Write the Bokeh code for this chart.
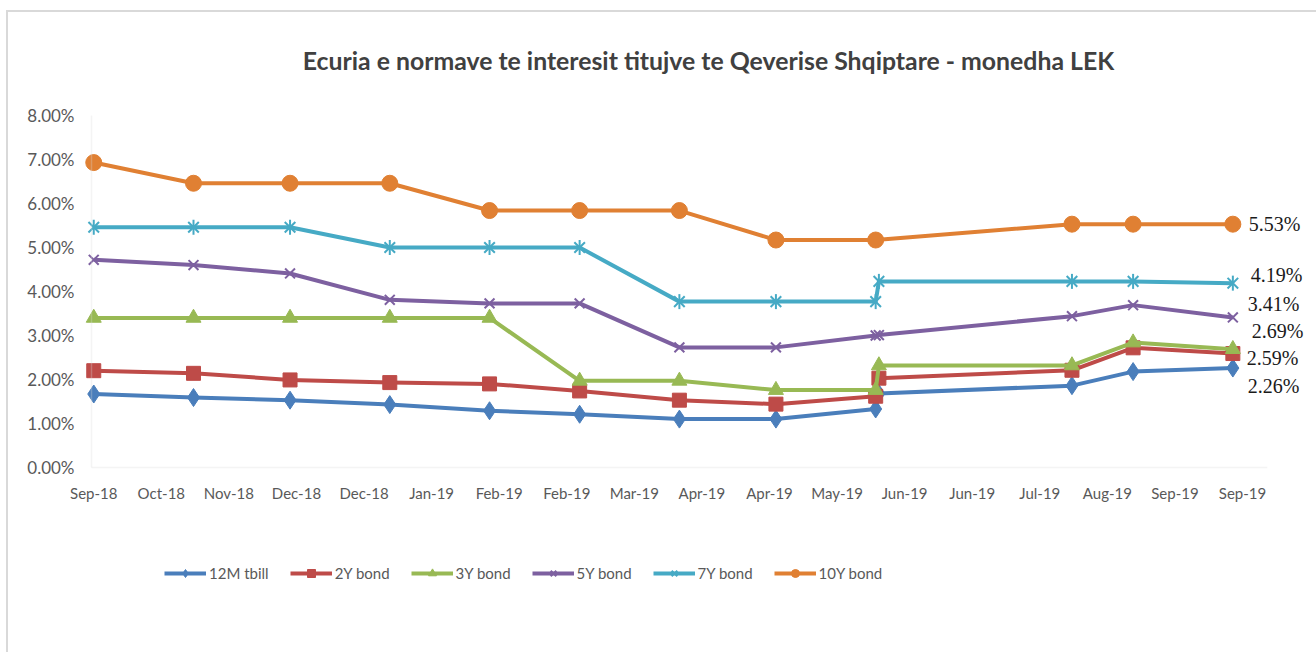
import pandas as pd
from bokeh.plotting import figure
from bokeh.models import (Range1d, Legend, LegendItem, ColumnDataSource, LabelSet, Label,
                          BoxAnnotation)
from bokeh.core.properties import value
from bokeh.embed import file_html
from bokeh.resources import INLINE

# ---------------- data ----------------
dates = ["2018-09-30", "2018-10-31", "2018-11-30", "2018-12-31", "2019-01-31",
         "2019-02-28", "2019-03-31", "2019-04-30", "2019-05-31", "2019-06-01",
         "2019-07-31", "2019-08-19", "2019-09-19"]
dates_10y = ["2018-09-30", "2018-10-31", "2018-11-30", "2018-12-31", "2019-01-31",
             "2019-02-28", "2019-03-31", "2019-04-30", "2019-05-31",
             "2019-07-31", "2019-08-19", "2019-09-19"]
tbill_12m = [1.67, 1.59, 1.53, 1.43, 1.29, 1.21, 1.10, 1.10, 1.33, 1.68, 1.86, 2.18, 2.26]
bond_2y   = [2.20, 2.14, 1.99, 1.93, 1.90, 1.74, 1.53, 1.44, 1.62, 2.03, 2.21, 2.72, 2.59]
bond_3y   = [3.40, 3.40, 3.40, 3.40, 3.40, 1.97, 1.97, 1.76, 1.76, 2.32, 2.32, 2.84, 2.69]
bond_5y   = [4.72, 4.60, 4.41, 3.81, 3.73, 3.73, 2.73, 2.73, 3.00, 3.01, 3.44, 3.69, 3.41]
bond_7y   = [5.46, 5.46, 5.46, 5.00, 5.00, 5.00, 3.77, 3.77, 3.77, 4.23, 4.23, 4.23, 4.19]
bond_10y  = [6.93, 6.46, 6.46, 6.46, 5.84, 5.84, 5.84, 5.17, 5.17, 5.53, 5.53, 5.53]

series_names = ["12M tbill", "2Y bond", "3Y bond", "5Y bond", "7Y bond", "10Y bond"]
series_values = [tbill_12m, bond_2y, bond_3y, bond_5y, bond_7y, bond_10y]
series_dates = [dates, dates, dates, dates, dates, dates_10y]

axis_start = "2018-09-30"
axis_end = "2019-09-30"
axis_step_days = 21
x_tick_labels = ["Sep-18", "Oct-18", "Nov-18", "Dec-18", "Dec-18", "Jan-19", "Feb-19",
                 "Feb-19", "Mar-19", "Apr-19", "Apr-19", "May-19", "Jun-19", "Jun-19",
                 "Jul-19", "Aug-19", "Sep-19", "Sep-19"]
y_ticks = [0, 1, 2, 3, 4, 5, 6, 7, 8]
y_tick_labels = ["0.00%", "1.00%", "2.00%", "3.00%", "4.00%", "5.00%", "6.00%", "7.00%", "8.00%"]
y_min, y_max = 0, 8

title_text = "Ecuria e normave te interesit titujve te Qeverise Shqiptare - monedha LEK"

# ---------------- styles ----------------
colors = ["#4A7EBB", "#BE4B48", "#98B954", "#7D60A0", "#46AAC5", "#E08033"]
markers = ["diamond", "square", "triangle", "x", "x", "circle"]
marker_sizes = [18, 14, 15, 14, 15, 16]
label_dx = [15, 14, 19, 15, 18, 16]
label_dy = [-18, -4, 18, 13, 8, 0]   # screen pixels, positive = up
FONT = "Lato"
GREY = "#595959"
AXIS_GREY = "#d9d9d9"

W, H = 1308, 640            # canvas (all of it is the plot frame)
PX_PER_DAY = 1179 / 366.4   # horizontal scale of the plot area
PX_PER_PCT = 44.0           # vertical scale of the plot area
PLOT_LEFT, PLOT_TOP = 83, 103   # plot-area corner inside the canvas

base = pd.Timestamp(axis_start)
def days(ds):
    return [(pd.Timestamp(d) - base).days for d in ds]

x_ticks = [i * axis_step_days for i in range(len(x_tick_labels))]
x_left = -0.7
x_axis_end = days([axis_end])[0] - 0.3

x0 = x_left - PLOT_LEFT / PX_PER_DAY
x1 = x0 + W / PX_PER_DAY
y1 = y_max + PLOT_TOP / PX_PER_PCT
y0 = y1 - H / PX_PER_PCT

p = figure(frame_width=W, frame_height=H, output_backend="svg", toolbar_location=None,
           x_range=Range1d(x0, x1), y_range=Range1d(y0, y1),
           min_border=0, min_border_left=0, min_border_right=0, min_border_top=0, min_border_bottom=0)
p.styles = {"margin-left": "6px", "margin-top": "10px",
            "border-left": "2px solid #d9d9d9", "border-top": "2px solid #d9d9d9"}
p.outline_line_color = None
p.grid.visible = False
p.xaxis.visible = False
p.yaxis.visible = False
p.background_fill_color = "white"
p.border_fill_color = "white"

# title
p.add_layout(Label(x=700, y=H - 48.3, x_units="screen", y_units="screen", text=title_text,
                   text_align="center", text_baseline="alphabetic", text_font=FONT,
                   text_font_size="24.8px", text_font_style="bold", text_color="#404040"))

# axis lines
p.add_layout(BoxAnnotation(left=x_left, right=x_left, bottom=y_min, top=y_max,
                           fill_alpha=0, line_color=AXIS_GREY, line_width=1.5))
p.add_layout(BoxAnnotation(left=x_left, right=x_axis_end, bottom=y_min, top=y_min,
                           fill_alpha=0, line_color=AXIS_GREY, line_width=1.5))

# y tick labels
ytick_src = ColumnDataSource(dict(x=[x_left] * len(y_ticks), y=y_ticks, text=y_tick_labels))
p.add_layout(LabelSet(x="x", y="y", text="text", source=ytick_src, x_offset=-17,
                      text_align="right", text_baseline="middle", text_font=value(FONT),
                      text_font_size="17px", text_color=GREY))

# x tick labels
xtick_src = ColumnDataSource(dict(x=x_ticks, y=[y_min] * len(x_ticks), text=x_tick_labels))
p.add_layout(LabelSet(x="x", y="y", text="text", source=xtick_src, y_offset=-25,
                      text_align="center", text_baseline="middle", text_font=value(FONT),
                      text_font_size="15px", text_color=GREY))

items = []
for name, ds, vals, c, m, s in zip(series_names, series_dates, series_values, colors, markers, marker_sizes):
    src = ColumnDataSource(dict(x=days(ds), y=vals))
    ln = p.line("x", "y", source=src, line_color=c, line_width=4, line_join="round")
    rs = [ln]
    if m == "x":
        rs.append(p.scatter("x", "y", source=src, marker="x", size=s, line_color=c, line_width=2))
        if name == "7Y bond":
            rs.append(p.scatter("x", "y", source=src, marker="dash", angle=1.5708, size=s,
                                line_color=c, line_width=2))
    else:
        rs.append(p.scatter("x", "y", source=src, marker=m, size=s, fill_color=c, line_color=c))
    items.append(LegendItem(label=name, renderers=rs))

legend = Legend(items=items, location=(156, 69), orientation="horizontal",
                glyph_width=42, glyph_height=20, label_height=20, label_standoff=3, spacing=21,
                padding=0, margin=0, border_line_color=None, background_fill_alpha=0,
                label_text_font=FONT, label_text_font_size="15px", label_text_color=GREY)
p.add_layout(legend, "center")

# end-of-series value labels
last_x = [days(ds)[-1] for ds in series_dates]
last_vals = [v[-1] for v in series_values]
lab_src = ColumnDataSource(dict(x=last_x, y=last_vals,
                                text=["%.2f%%" % v for v in last_vals], dx=label_dx, dy=label_dy))
p.add_layout(LabelSet(x="x", y="y", text="text", source=lab_src, x_offset="dx", y_offset="dy",
                      text_baseline="middle", text_align="left", text_font=value("Liberation Serif"),
                      text_font_size="20px", text_color="#1a1a1a"))

open("out.html", "w").write(file_html(p, INLINE))
